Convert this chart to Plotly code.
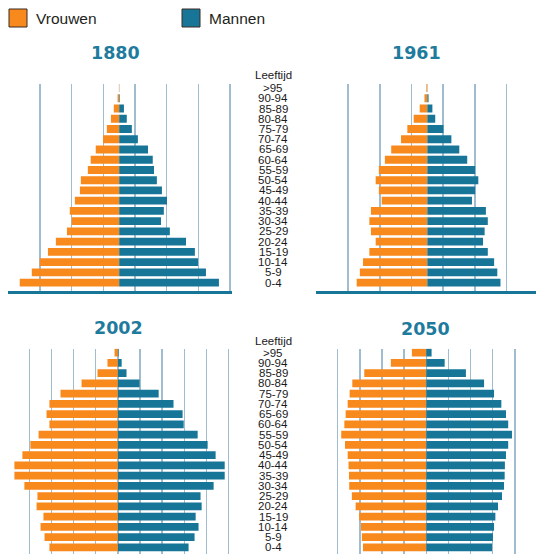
import plotly.graph_objects as go

# Age groups, bottom (index 0) to top
ages = ["0-4", "5-9", "10-14", "15-19", "20-24", "25-29", "30-34", "35-39", "40-44",
        "45-49", "50-54", "55-59", "60-64", "65-69", "70-74", "75-79", "80-84",
        "85-89", "90-94", ">95"]

years = ["1880", "1961", "2002", "2050"]

women_1880 = [314, 276, 251, 225, 200, 165, 150, 156, 140, 124, 121, 99, 90, 74, 51, 39, 26, 17, 5, 1]
men_1880 = [315, 274, 249, 239, 211, 160, 132, 141, 151, 135, 119, 110, 106, 91, 59, 40, 24, 15, 2, 0.5]

women_1961 = [223, 213, 203, 183, 163, 178, 183, 178, 144, 153, 163, 153, 134, 114, 83, 63, 43, 24, 9, 3]
men_1961 = [231, 221, 211, 191, 176, 181, 191, 185, 141, 151, 161, 151, 126, 101, 76, 51, 25, 16, 4, 0.5]

women_2002 = [309, 331, 349, 336, 367, 363, 422, 467, 467, 431, 395, 358, 309, 322, 309, 259, 164, 92, 47, 15]
men_2002 = [319, 346, 364, 351, 378, 373, 432, 482, 482, 441, 405, 360, 297, 292, 251, 184, 98, 39, 17, 3]

women_2050 = [286, 291, 295, 303, 319, 336, 348, 349, 351, 355, 367, 384, 370, 364, 355, 346, 334, 280, 160, 65]
men_2050 = [297, 301, 306, 312, 324, 342, 351, 354, 355, 360, 370, 387, 370, 360, 339, 306, 261, 179, 83, 24]

grid_top = [-350, -250, -150, -50, 50, 150, 250, 350]
grid_bottom = [-500, -400, -300, -200, -100, 0, 100, 200, 300, 400, 500]

legend_labels = ["Vrouwen", "Mannen"]

ORANGE = "#F8891C"
BLUE = "#177698"
TITLE = "#1F7B9D"
GRID = "#A0BCCF"

W, H = 536, 554

panels = [
    (women_1880, men_1880, "x", "y"),
    (women_1961, men_1961, "x2", "y2"),
    (women_2002, men_2002, "x3", "y3"),
    (women_2050, men_2050, "x4", "y4"),
]

fig = go.Figure()
for women, men, xa, ya in panels:
    fig.add_trace(go.Bar(y=ages, x=[-v for v in women], orientation="h",
                         marker=dict(color=ORANGE, line=dict(width=0)),
                         name=legend_labels[0], xaxis=xa, yaxis=ya,
                         showlegend=False, hoverinfo="skip"))
    fig.add_trace(go.Bar(y=ages, x=men, orientation="h",
                         marker=dict(color=BLUE, line=dict(width=0)),
                         name=legend_labels[1], xaxis=xa, yaxis=ya,
                         showlegend=False, hoverinfo="skip"))


def px_x(p):
    return min(1.0, max(0.0, p / W))


def px_y(p):
    return min(1.0, max(0.0, 1 - p / H))


top_dom = [px_y(290.5), px_y(83.9)]
bot_dom = [0, px_y(348.6)]

xcommon = dict(showticklabels=False, ticks="", zeroline=False, showgrid=True,
               gridcolor=GRID, gridwidth=1.5, fixedrange=True)
ycommon = dict(showticklabels=False, ticks="", showgrid=False, zeroline=False,
               type="category", fixedrange=True)

fig.update_layout(
    width=W, height=H,
    margin=dict(l=0, r=0, t=0, b=0),
    paper_bgcolor="white", plot_bgcolor="rgba(0,0,0,0)",
    barmode="overlay", bargap=0.24,
    showlegend=False,
    xaxis=dict(**xcommon, domain=[px_x(8.2), px_x(231.6)], range=[-350.5, 355],
               tickvals=grid_top, anchor="y", showline=True, linecolor=BLUE, linewidth=3),
    xaxis2=dict(**xcommon, domain=[px_x(316.0), 1], range=[-351.5, 343.2],
                tickvals=grid_top, anchor="y2", showline=True, linecolor=BLUE, linewidth=3),
    xaxis3=dict(**xcommon, domain=[px_x(8.2), px_x(229.8)], range=[-495, 505],
                tickvals=grid_bottom, anchor="y3", showline=False),
    xaxis4=dict(**xcommon, domain=[px_x(316.0), 1], range=[-498, 495.5],
                tickvals=grid_bottom, anchor="y4", showline=False),
    yaxis=dict(**ycommon, domain=top_dom, range=[-0.76, 19.4], anchor="x"),
    yaxis2=dict(**ycommon, domain=top_dom, range=[-0.76, 19.4], anchor="x2"),
    yaxis3=dict(**ycommon, domain=bot_dom, range=[-0.654, 19.4], anchor="x3"),
    yaxis4=dict(**ycommon, domain=bot_dom, range=[-0.654, 19.4], anchor="x4"),
)

annotations = []
# Panel titles
title_pos = [(115, 53), (416, 53), (118, 328), (425.5, 329)]
for yr, (tx, ty) in zip(years, title_pos):
    annotations.append(dict(text=yr, x=px_x(tx), y=px_y(ty), xref="paper", yref="paper",
                            showarrow=False, xanchor="center", yanchor="middle",
                            font=dict(family="DejaVu Sans", size=17.5, color=TITLE, weight="bold")))

# Age labels
for ya, ly in (("y", 75), ("y3", 341)):
    annotations.append(dict(text="Leeftijd", x=px_x(273), y=px_y(ly), xref="paper", yref="paper",
                            showarrow=False, xanchor="center", yanchor="middle",
                            font=dict(family="Liberation Sans", size=11.5, color="#1a1a1a")))
    for a in ages:
        annotations.append(dict(text=a, x=px_x(273), y=a, xref="paper", yref=ya,
                                showarrow=False, xanchor="center", yanchor="middle",
                                font=dict(family="Liberation Sans", size=11.5, color="#1a1a1a")))

# Legend
shapes = []
for (x0, col, lab) in ((9, ORANGE, legend_labels[0]), (182, BLUE, legend_labels[1])):
    shapes.append(dict(type="rect", xref="paper", yref="paper",
                       x0=px_x(x0), x1=px_x(x0 + 18), y0=px_y(27), y1=px_y(9),
                       fillcolor=col, line=dict(color="#3b2b22", width=1)))
    annotations.append(dict(text=lab, x=px_x(x0 + 25), y=px_y(18.5), xref="paper", yref="paper",
                            showarrow=False, xanchor="left", yanchor="middle",
                            font=dict(family="Liberation Sans", size=15.5, color="#231F20")))

fig.update_layout(annotations=annotations, shapes=shapes)

# Remove the browser's default page margin so the figure fills the window exactly
fig.write_html("out.html",
               config={"displayModeBar": False, "staticPlot": True},
               post_script="document.body.style.margin='0';document.body.style.overflow='hidden';")
